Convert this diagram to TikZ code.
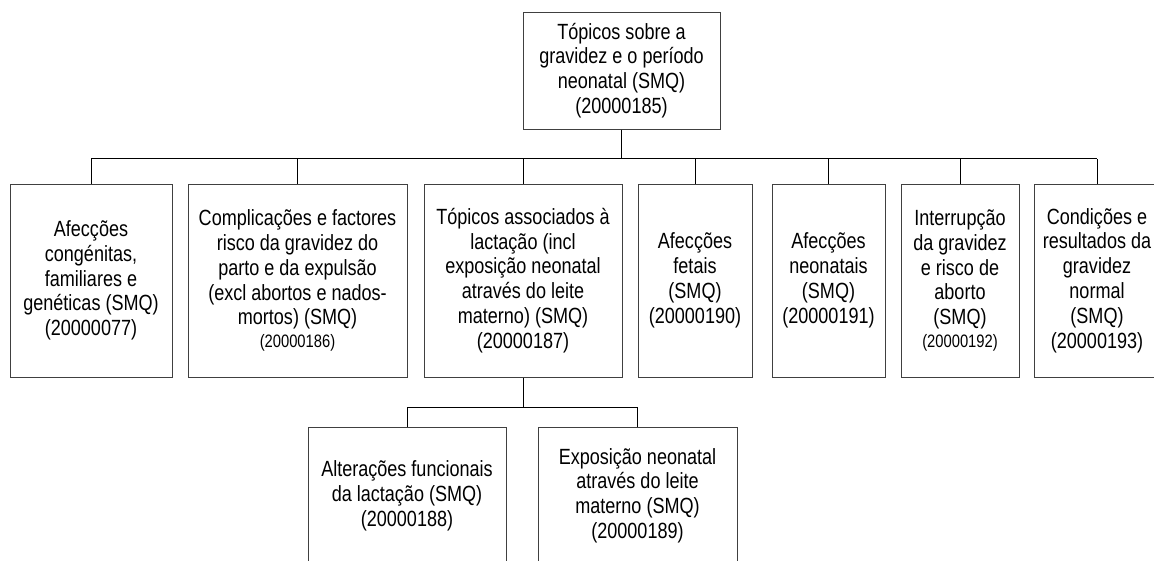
\documentclass[tikz,border=0pt]{standalone}
\usepackage{fontspec}
\setmainfont{Liberation Sans}[FakeStretch=0.82]
\begin{document}
\begin{tikzpicture}[x=1pt,y=-1pt,
  box/.style={draw=black!75,line width=1pt,inner sep=0pt,align=center,
    font=\fontsize{22}{24.8}\selectfont},
  conn/.style={draw=black,line width=0.9pt},
  stem/.style={draw=black,line width=1.6pt}]
\useasboundingbox (0,0) rectangle (1154,560);
\clip (0,0) rectangle (1154,560);
\fill[white] (0,0) rectangle (1154,560);
\newcommand{\smallnum}[1]{{\fontsize{18}{21}\selectfont #1}}
\node[box,minimum width=197pt,minimum height=117pt] (top) at (621.5,70.5)
  {Tópicos sobre a\\gravidez e o período\\neonatal (SMQ)\\(20000185)};
\node[box,minimum width=162pt,minimum height=193pt] (b1) at (91,280.5)
  {Afecções\\congénitas,\\familiares e\\genéticas (SMQ)\\(20000077)};
\node[box,minimum width=219pt,minimum height=193pt] (b2) at (297.5,280.5)
  {Complicações e factores\\risco da gravidez do\\parto e da expulsão\\(excl abortos e nados-\\mortos) (SMQ)\\[-2pt]\smallnum{(20000186)}};
\node[box,minimum width=198pt,minimum height=193pt] (b3) at (523,280.5)
  {Tópicos associados à\\lactação (incl\\exposição neonatal\\através do leite\\materno) (SMQ)\\(20000187)};
\node[box,minimum width=114pt,minimum height=193pt] (b4) at (695,280.5)
  {Afecções\\fetais\\(SMQ)\\(20000190)};
\node[box,minimum width=113pt,minimum height=193pt] (b5) at (828.5,280.5)
  {Afecções\\neonatais\\(SMQ)\\(20000191)};
\node[box,minimum width=118pt,minimum height=193pt] (b6) at (960,280.5)
  {Interrupção\\da gravidez\\e risco de\\aborto\\(SMQ)\\[-2pt]\smallnum{(20000192)}};
\node[box,minimum width=126pt,minimum height=193pt] (b7) at (1097,280.5)
  {Condições e\\resultados da\\gravidez\\normal\\(SMQ)\\(20000193)};
\node[box,minimum width=198pt,minimum height=137pt] (b8) at (407,495.5)
  {Alterações funcionais\\da lactação (SMQ)\\(20000188)};
\node[box,minimum width=199pt,minimum height=137pt] (b9) at (637.5,495.5)
  {Exposição neonatal\\através do leite\\materno (SMQ)\\(20000189)};
\coordinate (bus) at (0,158.5);
\coordinate (sub) at (0,407);
\draw[stem] (top.south) -- (top.south |- bus);
\draw[conn] (b1.north |- bus) -- (b7.north |- bus);
\foreach \b in {b1,b2,b3,b4,b5,b6,b7}{
  \draw[conn] (\b.north) -- (\b.north |- bus);
}
\draw[conn] (b3.south) -- (b3.south |- sub);
\draw[conn] (b8.north |- sub) -- (b9.north |- sub);
\draw[conn] (b8.north) -- (b8.north |- sub);
\draw[conn] (b9.north) -- (b9.north |- sub);
\end{tikzpicture}
\end{document}
